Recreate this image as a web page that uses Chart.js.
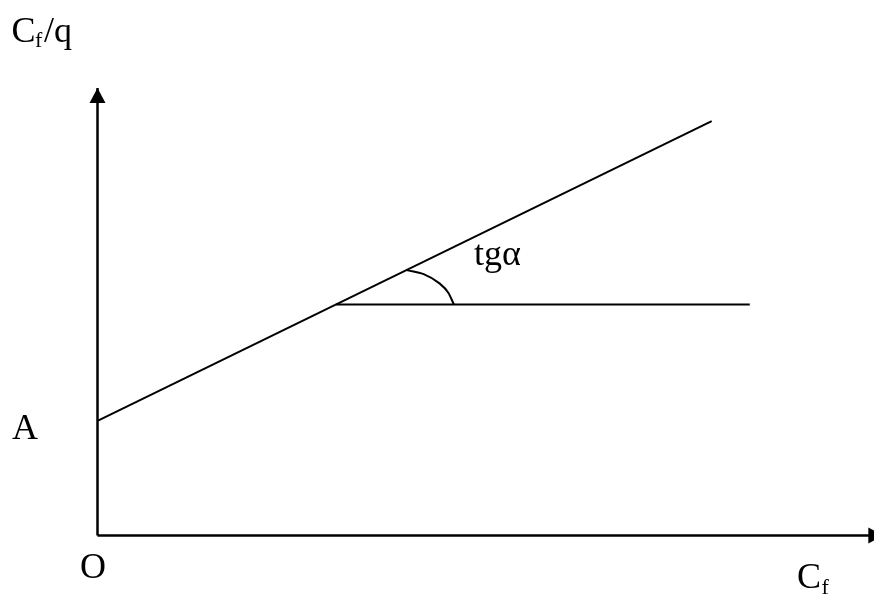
<!DOCTYPE html>
<html>
<head>
<meta charset="utf-8">
<script src="https://cdn.jsdelivr.net/npm/chart.js@4"></script>
<style>
  html, body { margin: 0; padding: 0; background: #fff; }
</style>
</head>
<body>
<canvas id="canvasOne" width="874" height="595"></canvas>
<script>
// values, in axis units (both axes run 0..10)
const axisX = [0, 10.12];          // horizontal axis, O to arrow tip
const axisY = [0, 10];             // vertical axis, O to arrow tip
const slopeLineX = [0, 7.91];      // the straight line starting at A
const slopeLineY = [2.56, 9.26];
const horizLineX = [3.07, 8.40];   // horizontal reference line
const horizLineY = [5.16, 5.16];
const arcX = [3.98, 4.20, 4.40, 4.52, 4.59]; // angle mark
const arcY = [5.93, 5.84, 5.64, 5.42, 5.16];

const pts = (xs, ys) => xs.map((x, i) => ({ x: x, y: ys[i] }));

// arrow heads and the text labels
const decorations = {
  id: "decorations",
  afterDatasetsDraw(chart) {
    const ctx = chart.ctx;
    const sx = chart.scales.x;
    const sy = chart.scales.y;
    const ox = sx.getPixelForValue(0);
    const oy = sy.getPixelForValue(0);
    ctx.save();
    ctx.fillStyle = "#000";

    const ty = sy.getPixelForValue(axisY[1]);
    ctx.beginPath();
    ctx.moveTo(ox, ty);
    ctx.lineTo(ox - 8, ty + 15);
    ctx.lineTo(ox + 8, ty + 15);
    ctx.closePath();
    ctx.fill();

    const tx = sx.getPixelForValue(axisX[1]);
    ctx.beginPath();
    ctx.moveTo(tx, oy);
    ctx.lineTo(tx - 15, oy - 8);
    ctx.lineTo(tx - 15, oy + 8);
    ctx.closePath();
    ctx.fill();

    const big = "36px 'Liberation Serif', 'Times New Roman', serif";
    const small = "22px 'Liberation Serif', 'Times New Roman', serif";
    ctx.textBaseline = "alphabetic";
    ctx.textAlign = "left";

    // C_f/q
    ctx.font = big;
    ctx.fillText("C", 11.5, 41.5);
    ctx.font = small;
    ctx.fillText("f", 35, 47);
    ctx.font = big;
    ctx.fillText("/q", 44, 41.5);

    ctx.fillText("A", 12, 439);
    ctx.fillText("O", 80, 578);
    ctx.fillText("tgα", 474, 265);

    // C_f on the horizontal axis
    ctx.fillText("C", 797, 587.5);
    ctx.font = small;
    ctx.fillText("f", 821.5, 594);
    ctx.restore();
  }
};

const canvas = document.getElementById("canvasOne");

new Chart(canvas, {
  type: "scatter",
  data: {
    datasets: [
      { data: pts([0, 0], axisY), borderWidth: 2.5 },
      { data: pts(axisX, [0, 0]), borderWidth: 2.5 },
      { data: pts(slopeLineX, slopeLineY), borderWidth: 2 },
      { data: pts(horizLineX, horizLineY), borderWidth: 2 },
      { data: pts(arcX, arcY), borderWidth: 2, cubicInterpolationMode: "monotone" },
    ].map((d) => Object.assign({
      showLine: true,
      borderColor: "#000",
      backgroundColor: "#000",
      pointRadius: 0,
      pointHoverRadius: 0,
      clip: false,
    }, d)),
  },
  options: {
    responsive: false,
    animation: false,
    devicePixelRatio: 1,
    layout: { padding: { left: 97.5, right: 0, top: 88, bottom: 59.5 } },
    plugins: { legend: { display: false }, tooltip: { enabled: false } },
    scales: {
      x: { type: "linear", min: 0, max: 10, display: false },
      y: { type: "linear", min: 0, max: 10, display: false },
    },
  },
  plugins: [decorations],
});
</script>
</body>
</html>
